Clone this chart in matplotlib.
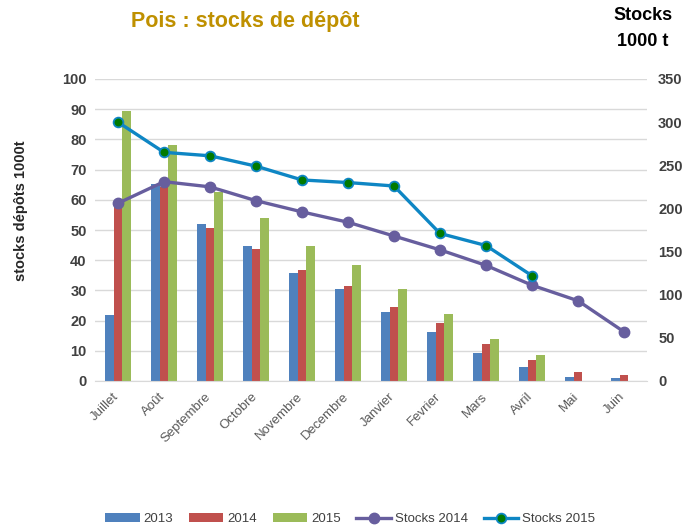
import matplotlib
matplotlib.use("Agg")
import matplotlib.pyplot as plt
import matplotlib.transforms as mtransforms
import numpy as np

plt.rcParams["font.family"] = ["Liberation Sans", "DejaVu Sans"]

months = ["Juillet", "Août", "Septembre", "Octobre", "Novembre", "Decembre",
          "Janvier", "Fevrier", "Mars", "Avril", "Mai", "Juin"]
depot_2013 = [22, 65.2, 52, 44.7, 35.8, 30.5, 22.8, 16.2, 9.3, 4.6, 1.3, 1.0]
depot_2014 = [58, 64.2, 50.7, 43.7, 36.8, 31.5, 24.5, 19.2, 12.3, 7.0, 3.0, 2.0]
depot_2015 = [89.4, 78.1, 62.6, 54, 44.7, 38.4, 30.5, 22.2, 13.9, 8.6]
stocks_2014 = [206, 231, 225, 209, 196, 184, 168, 152, 134, 111, 93, 57]
stocks_2015 = [300, 265, 261, 249, 233, 230, 226, 171, 157, 122]

tick_color = "#404040"
x = np.arange(len(months))
w = 0.195

fig = plt.figure(figsize=(6.82, 5.26), dpi=100)
ax = fig.add_axes([95 / 682, 1 - 381 / 526, 552 / 682, 302 / 526])
ax2 = ax.twinx()

ax.bar(x - w, depot_2013, w, color="#4F81BD", label="2013", zorder=2)
ax.bar(x, depot_2014, w, color="#C0504D", label="2014", zorder=2)
ax.bar(x[:len(depot_2015)] + w, depot_2015, w, color="#9BBB59", label="2015", zorder=2)

ax2.plot(x, stocks_2014, color="#675E9E", lw=2.4, marker="o", ms=7.5,
         label="Stocks 2014", zorder=3)
ax2.plot(x[:len(stocks_2015)], stocks_2015, color="#0E86C4", lw=2.4,
         marker="o", ms=7, mfc="#007A00", mec="#0E86C4", mew=1.3,
         label="Stocks 2015", zorder=4)

ax.set_xlim(-0.5, len(months) - 0.5)
ax.set_ylim(0, 100)
ax.set_yticks(np.arange(0, 101, 10))
ax2.set_ylim(0, 350)
ax2.set_yticks(np.arange(0, 351, 50))

ax.grid(axis="y", color="#D9D9D9", lw=1, zorder=0)
ax.set_axisbelow(True)
ax.set_zorder(ax2.get_zorder() - 1)
ax.patch.set_visible(False)
for a in (ax, ax2):
    for s in a.spines.values():
        s.set_visible(False)
ax.spines["bottom"].set_visible(True)
ax.spines["bottom"].set_color("#D9D9D9")

ax.set_xticks(x)
ax.set_xticklabels(months, rotation=45, ha="right", rotation_mode="anchor",
                   fontsize=9.5, color="#595959")
ax.tick_params(axis="x", length=0, pad=7)
shift = mtransforms.ScaledTranslation(-0.05, 0, fig.dpi_scale_trans)
for lbl in ax.get_xticklabels():
    lbl.set_transform(lbl.get_transform() + shift)
ax.tick_params(axis="y", length=0, labelsize=10.5, labelcolor=tick_color, pad=6)
ax2.tick_params(axis="y", length=0, labelsize=10.5, labelcolor=tick_color, pad=8)
for lbl in ax.get_yticklabels() + ax2.get_yticklabels():
    lbl.set_fontweight("bold")

ax.set_ylabel("stocks dépôts 1000t", fontsize=10.5, fontweight="bold",
              color="#262626")
ax.yaxis.set_label_coords(-0.122, 0.563)

fig.text(131 / 682, 1 - 21 / 526, "Pois : stocks de dépôt", fontsize=15.5,
         fontweight="bold", color="#BF9000", va="center", ha="left")
fig.text(643 / 682, 1 - 16 / 526, "Stocks", fontsize=13,
         fontweight="bold", color="black", va="center", ha="center")
fig.text(643 / 682, 1 - 42 / 526, "1000 t", fontsize=13,
         fontweight="bold", color="black", va="center", ha="center")

h1, l1 = ax.get_legend_handles_labels()
h2, l2 = ax2.get_legend_handles_labels()
fig.legend(h1 + h2, l1 + l2, loc="center", bbox_to_anchor=(350 / 682, 1 - 519 / 526),
           ncol=5, frameon=False, fontsize=9.5, handlelength=2.6, handleheight=0.6,
           columnspacing=1.2, handletextpad=0.3, labelcolor="#404040")

fig.savefig("out.png", dpi=100)
